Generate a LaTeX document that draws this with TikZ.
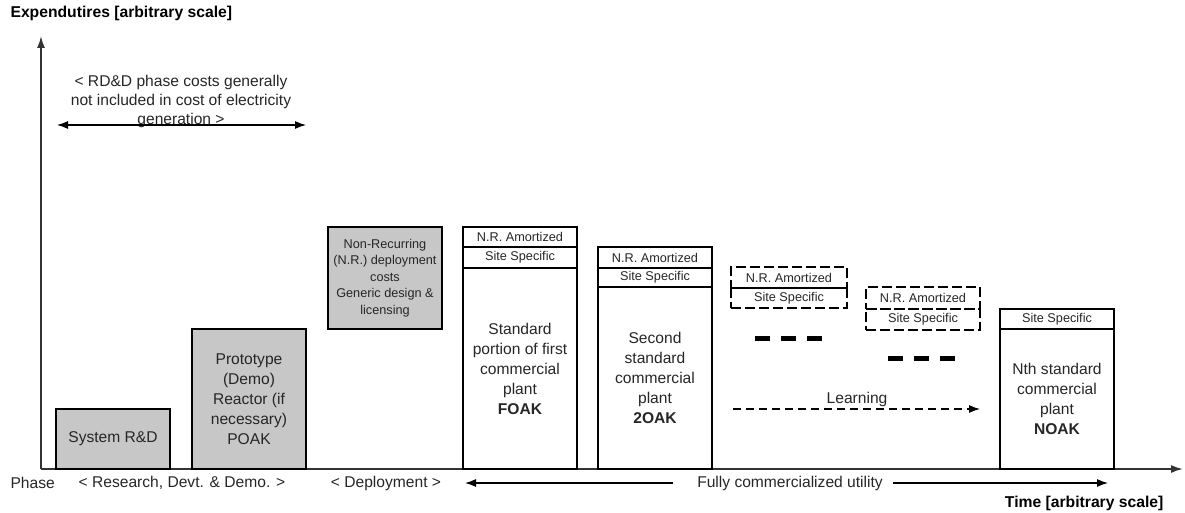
\documentclass[tikz,border=0pt]{standalone}
\usepackage{fontspec}
\setmainfont{Liberation Sans}
\usetikzlibrary{positioning,arrows.meta}

\begin{document}
\begin{tikzpicture}[x=1pt,y=-1pt,
				every node/.style={font=\fontsize{15.6}{20}\selectfont,text=black!85,align=center},
				small/.style={font=\fontsize{12.7}{16.5}\selectfont},
				heading/.style={font=\bfseries\fontsize{15.7}{19}\selectfont,text=black},
				rdbox/.style={draw=black,line width=1.8pt,fill=black!22,minimum width=114pt,inner xsep=1pt,outer sep=0pt,anchor=south west},
				plant/.style={draw=black,line width=1.3pt,minimum width=114pt,inner sep=0pt,outer sep=0pt},
				part/.style={plant,small},
				dashpart/.style={part,line width=2.6pt,dash pattern=on 10pt off 4pt},
				axis/.style={line width=1.8pt,draw=black!80,-{Latex[length=12pt,width=8pt]}},
				conn/.style={line width=1.2pt,-{Latex[length=11pt,width=8pt]}},
				twoway/.style={line width=1.2pt,{Latex[length=11pt,width=8pt]}-{Latex[length=11pt,width=8pt]}},
				bar/.style={line width=5pt,dash pattern=on 15pt off 11pt}]
\useasboundingbox (0,0) rectangle (1185,513);
\coordinate (origin) at (41,469);
\coordinate (ytop) at (41,36);
\coordinate (xend) at (1183,469);
\draw[axis] (origin) -- (ytop);
\draw[axis] (origin) -- (xend);
\node[heading,anchor=west] (ylabel) at (7,13) {Expendutires [arbitrary scale]};
\node[heading,anchor=east] (xlabel) at (1167,503) {Time [arbitrary scale]};
\node[text=black!85,font=\fontsize{15.6}{19}\selectfont] (rddnote) at (181,101) {< RD\&D phase costs generally\\not included in cost of electricity\\generation >};
\coordinate (rddl) at (57,125);
\coordinate (rddr) at (306,125);
\draw[twoway] (rddl) -- (rddr);
\node[rdbox,minimum height=60pt] (sysrd) at (56,469) {System R\&D};
\node[rdbox,minimum height=140pt] (proto) at (192,469) {Prototype\\(Demo)\\Reactor (if\\necessary)\\POAK};
\node[rdbox,small,minimum height=102pt] (nrdeploy) at (328,329) {Non-Recurring\\(N.R.) deployment\\costs\\Generic design \&\\licensing};
\node[plant,minimum height=201pt,anchor=south west] (foak) at (463,469) {Standard\\portion of first\\commercial\\plant\\\textbf{FOAK}};
\node[part,above=0pt of foak,minimum height=21pt] (foaksite) {Site Specific};
\node[part,above=0pt of foaksite,minimum height=20pt] (foaknr) {N.R. Amortized};
\node[plant,line width=1.5pt,minimum height=182pt,anchor=south west] (twoak) at (598,469) {Second\\standard\\commercial\\plant\\\textbf{2OAK}};
\node[part,line width=1.5pt,above=0pt of twoak,minimum height=19pt] (twoaksite) {Site Specific};
\node[part,line width=1.8pt,above=0pt of twoaksite,minimum height=21pt] (twoaknr) {N.R. Amortized};
\node[dashpart,minimum width=116pt,minimum height=20pt,anchor=south west] (threesite) at (731,308) {Site Specific};
\node[dashpart,minimum width=116pt,above=0pt of threesite,minimum height=21pt] (threenr) {N.R. Amortized};
\node[dashpart,minimum height=21pt,anchor=south west] (foursite) at (866,330) {Site Specific};
\node[dashpart,above=0pt of foursite,minimum height=22pt] (fournr) {N.R. Amortized};
\coordinate (baral) at (755,338);
\coordinate (barar) at (822,338);
\draw[bar] (baral) -- (barar);
\coordinate (barbl) at (888,358);
\coordinate (barbr) at (955,358);
\draw[bar] (barbl) -- (barbr);
\coordinate (learnl) at (733,409);
\coordinate (learnr) at (980,409);
\draw[conn,dash pattern=on 8pt off 5pt] (learnl) -- (learnr);
\node (learning) at (857,399) {Learning};
\node[plant,minimum height=140pt,anchor=south west] (noak) at (1000,469) {Nth standard\\commercial\\plant\\\textbf{NOAK}};
\node[part,above=0pt of noak,minimum height=20pt] (noaksite) {Site Specific};
\node[anchor=west] (phase) at (7,483) {Phase};
\node (rdphase) at (182,483) {< Research, Devt. \& Demo. >};
\node (deploy) at (386,483) {< Deployment >};
\node (utility) at (790,483) {Fully commercialized utility};
\coordinate (utill) at (465,483);
\coordinate (utilla) at (673,483);
\coordinate (utilr) at (1108,483);
\coordinate (utilra) at (893,483);
\draw[conn] (utilla) -- (utill);
\draw[conn] (utilra) -- (utilr);
\end{tikzpicture}
\end{document}
